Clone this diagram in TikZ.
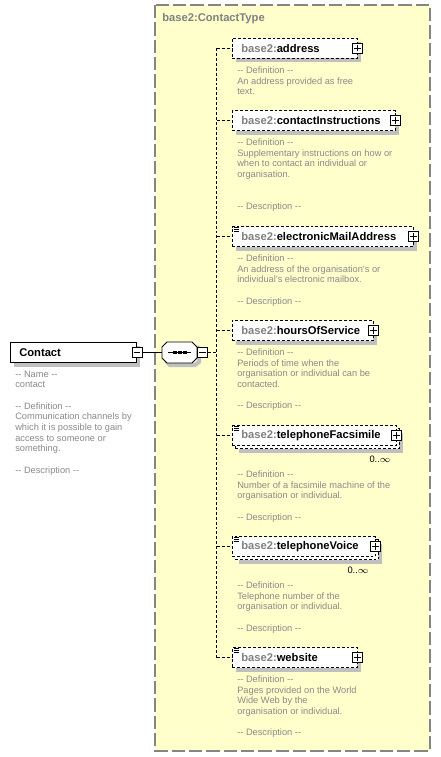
\documentclass[tikz,border=0pt]{standalone}
\usepackage{fontspec}
\setmainfont{Liberation Sans}
\usetikzlibrary{calc}
\definecolor{ybg}{HTML}{FFFFCC}
\definecolor{cmt}{HTML}{8A8A8A}
\definecolor{bord}{HTML}{858585}
\definecolor{pfx}{HTML}{808080}
\definecolor{shd}{HTML}{C0C0C0}
\newcommand{\nm}[1]{{\color{pfx}base2:}#1}
\tikzset{
  dsh/.style={dash pattern=on 2.2pt off 1.5pt},
  shadowline/.style={draw=shd, line width=3pt, line cap=butt, line join=miter, solid},
  elem/.style={draw, dsh, fill=white, minimum height=15pt, inner sep=0, anchor=west, line width=0.6pt},
  ename/.style={anchor=west, inner sep=0, font=\fontsize{8.4}{10}\selectfont\bfseries},
  cmtxt/.style={anchor=north west, inner sep=0, align=left, text=cmt, font=\fontsize{6.95}{8}\selectfont},
  card/.style={inner sep=0, font=\fontsize{7}{8}\selectfont},
  plusbox/.style={draw, solid, fill=white, minimum size=7.5pt, inner sep=0, line width=0.6pt,
    path picture={\draw[line width=0.55pt] ([xshift=1.2pt]path picture bounding box.west) -- ([xshift=-1.2pt]path picture bounding box.east)
      ([yshift=1.2pt]path picture bounding box.south) -- ([yshift=-1.2pt]path picture bounding box.north);}},
  minusbox/.style={draw, solid, fill=white, minimum size=7.5pt, inner sep=0, line width=0.6pt,
    path picture={\draw[line width=0.55pt] ([xshift=1.2pt]path picture bounding box.west) -- ([xshift=-1.2pt]path picture bounding box.east);}},
  conn/.style={draw, dsh, line width=0.6pt}
}
% L-shaped shadow of a box: x1, x2, y1, y2 (pixels)
\newcommand{\lshadow}[4]{\draw[shadowline] (#1+4,#4+2) -- (#2+2,#4+2) -- (#2+2,#3+4);}
\newcommand{\simpleicon}[1]{%
  \draw[line width=0.45pt] ($(#1.north west)+(1.5pt,-1pt)$) -- ++(3.5pt,0)
    ($(#1.north west)+(1.5pt,-2.3pt)$) -- ++(3.5pt,0)
    ($(#1.north west)+(1.5pt,-3.6pt)$) -- ++(3.5pt,0);}
\begin{document}
\begin{tikzpicture}[x=0.75pt,y=-0.75pt]
\useasboundingbox (0,0) rectangle (441,757);
\fill[white] (0,0) rectangle (441,757);
\fill[ybg] (155,5) rectangle (430,751);
% shadows
\lshadow{10}{136}{342}{363}
\draw[shadowline] (197,346) -- (199,350) -- (199,362) -- (195,365) -- (170,365) -- (166,361);
\lshadow{232}{357}{38}{58}
\lshadow{232}{395}{110.5}{130.5}
\lshadow{232}{413}{226.5}{246.5}
\lshadow{232}{373}{320.5}{340.5}
\lshadow{235}{399}{428.5}{448.5}
\lshadow{235}{378}{539.5}{559.5}
\lshadow{232}{357}{647.5}{667.5}
% container border
\draw[bord, line width=1.1pt, dash pattern=on 10pt off 3pt] (155,5) rectangle (430,751);

% Contact element
\node[draw, fill=white, minimum width={126*0.75pt}, minimum height=15.5pt, inner sep=0, anchor=west, line width=0.7pt] (contact) at (10,352.5) {};
\node[anchor=west, inner sep=0, font=\fontsize{8.4}{10}\selectfont\bfseries] (contactlbl) at (19,352.5) {Contact};
\node[minusbox] (cminus) at (contact.east) {};
\node[cmtxt] (contacttxt) at (15,370.5) {-{}- Name -{}-\\contact\\[8pt]-{}- Definition -{}-\\Communication channels by\\which it is possible to gain\\access to someone or\\something.\\[8pt]-{}- Description -{}-};

% sequence
\node[minimum width={35*0.75pt}, minimum height=15.5pt, inner sep=0] (seq) at (179.5,352.5) {};
\draw[fill=white, line width=0.7pt] (167,342) -- (192,342) -- (197,347) -- (197,358) -- (192,363) -- (167,363) -- (162,358) -- (162,347) -- cycle;
\draw[line width=0.7pt] (168,352.5) -- (191,352.5);
\foreach \xx in {175,180,185} \fill (\xx-1.6,350.9) rectangle (\xx+1.6,354.1);
\node[minusbox, anchor=west] (sminus) at (seq.east) {};
\draw[line width=0.7pt] (cminus.east) -- (seq.west);

% trunk coordinates
\coordinate (ttop) at (216.7,48);
\coordinate (tbot) at (216.7,657.5);
\draw[conn] (sminus.east) -- (216.7,352.5);
\draw[conn] (ttop) -- (tbot);

% address
\node[elem, minimum width={125*0.75pt}] (addr) at (232,48) {};
\node[ename] at (241,48) {\nm{address}};
\node[plusbox] (addrp) at (addr.east) {};
\draw[conn] (ttop) -- (addr.west);
\node[cmtxt] at (237,66.5) {-{}- Definition -{}-\\An address provided as free\\text.};

% contactInstructions
\node[elem, minimum width={163*0.75pt}] (ci) at (232,120.5) {};
\node[ename] at (241,120.5) {\nm{contactInstructions}};
\node[plusbox] at (ci.east) {};
\draw[conn] (216.7,120.5) -- (ci.west);
\node[cmtxt] at (237,138.5) {-{}- Definition -{}-\\Supplementary instructions on how or\\when to contact an individual or\\organisation.\\[16pt]-{}- Description -{}-};

% electronicMailAddress
\node[elem, minimum width={181*0.75pt}] (ema) at (232,236.5) {};
\node[ename] at (241,236.5) {\nm{electronicMailAddress}};
\node[plusbox] at (ema.east) {};
\simpleicon{ema}
\draw[conn] (216.7,236.5) -- (ema.west);
\node[cmtxt] at (237,254.5) {-{}- Definition -{}-\\An address of the organisation's or\\individual's electronic mailbox.\\[8pt]-{}- Description -{}-};

% hoursOfService
\node[elem, minimum width={141*0.75pt}] (hos) at (232,330.5) {};
\node[ename] at (241,330.5) {\nm{hoursOfService}};
\node[plusbox] at (hos.east) {};
\draw[conn] (216.7,330.5) -- (hos.west);
\node[cmtxt] at (237,348.5) {-{}- Definition -{}-\\Periods of time when the\\organisation or individual can be\\contacted.\\[8pt]-{}- Description -{}-};

% telephoneFacsimile
\node[elem, minimum width={164*0.75pt}] (tfb) at (235,438.5) {};
\node[elem, minimum width={164*0.75pt}] (tf) at (232,435.5) {};
\node[ename] at (241,435.5) {\nm{telephoneFacsimile}};
\node[plusbox] at (tf.east) {};
\simpleicon{tf}
\draw[conn] (216.7,435.5) -- (tf.west);
\node[card] (tfc) at (380,459) {0..$\infty$};
\node[cmtxt] at (237,470.5) {-{}- Definition -{}-\\Number of a facsimile machine of the\\organisation or individual.\\[8pt]-{}- Description -{}-};

% telephoneVoice
\node[elem, minimum width={143*0.75pt}] (tvb) at (235,549.5) {};
\node[elem, minimum width={143*0.75pt}] (tv) at (232,546.5) {};
\node[ename] at (241,546.5) {\nm{telephoneVoice}};
\node[plusbox] at (tv.east) {};
\simpleicon{tv}
\draw[conn] (216.7,546.5) -- (tv.west);
\node[card] (tvc) at (358,570) {0..$\infty$};
\node[cmtxt] at (237,581.5) {-{}- Definition -{}-\\Telephone number of the\\organisation or individual.\\[8pt]-{}- Description -{}-};

% website
\node[elem, minimum width={125*0.75pt}] (web) at (232,657.5) {};
\node[ename] at (241,657.5) {\nm{website}};
\node[plusbox] at (web.east) {};
\simpleicon{web}
\draw[conn] (tbot) -- (web.west);
\node[cmtxt] at (237,675.5) {-{}- Definition -{}-\\Pages provided on the World\\Wide Web by the\\organisation or individual.\\[8pt]-{}- Description -{}-};

\node[anchor=west, inner sep=0, text=pfx, font=\fontsize{8.4}{10}\selectfont\bfseries] (ctitle) at (162,18.5) {base2:ContactType};
\end{tikzpicture}
\end{document}
